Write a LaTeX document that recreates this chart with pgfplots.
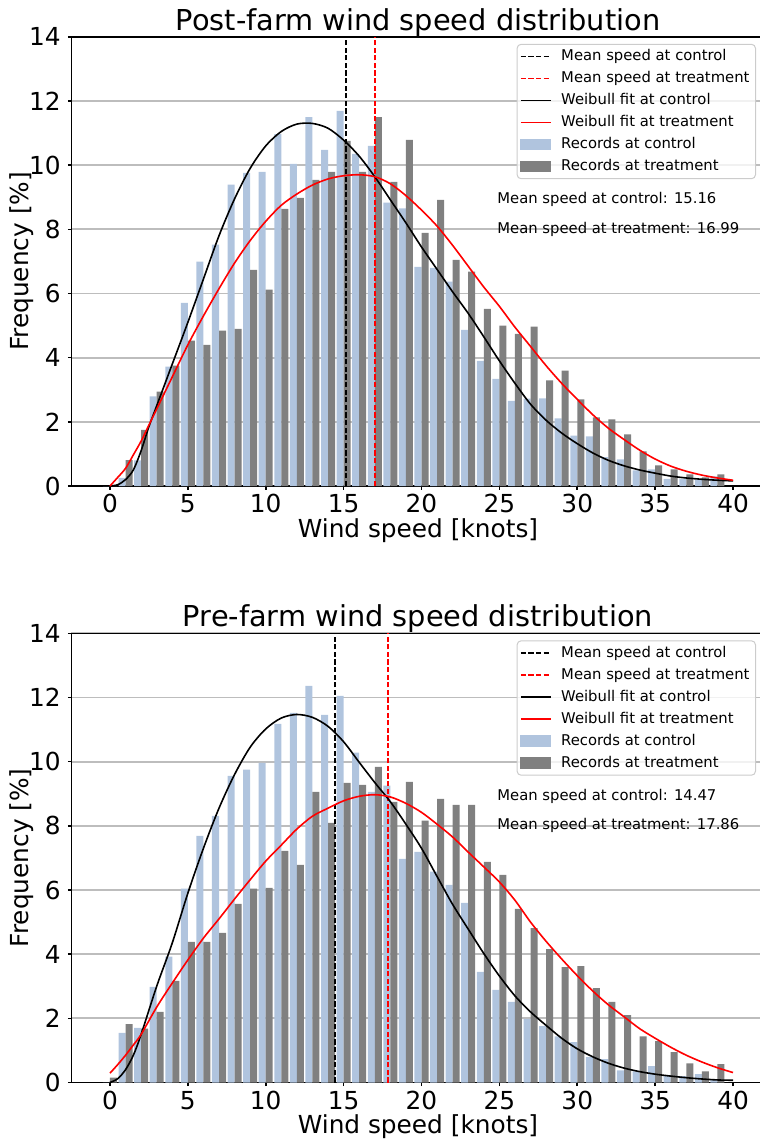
\documentclass[border=0pt]{standalone}
\usepackage{fontspec}
\setmainfont{DejaVu Sans}
\usepackage{pgfplots}
\usepackage{pgfplotstable}
\pgfplotsset{compat=1.18}

\definecolor{ctrlbar}{HTML}{B0C4DE}
\definecolor{trtbar}{HTML}{808080}
\definecolor{gridgray}{HTML}{BDBDBD}
\definecolor{legendedge}{HTML}{CCCCCC}

% Histogram frequencies [%] per 1-knot bin (bin centre k)
\pgfplotstableread{
k  ctrl   trt
0  0.00   0.00
1  0.25   0.81
2  0.80   1.75
3  2.79   2.94
4  3.72   3.75
5  5.71   4.53
6  6.99   4.40
7  7.52   4.84
8  9.39   4.90
9  9.76   6.74
10 9.79   6.12
11 10.97  8.64
12 10.04  8.98
13 11.50  9.54
14 10.48  9.79
15 11.69  10.76
16 10.35  9.79
17 10.60  11.50
18 8.83   9.48
19 8.65   10.79
20 6.83   7.89
21 6.80   8.92
22 6.37   7.05
23 4.87   6.68
24 3.90   5.52
25 3.34   5.00
26 2.65   4.74
27 2.72   4.97
28 2.73   3.29
29 2.11   3.60
30 1.57   2.70
31 1.55   2.14
32 0.90   2.08
33 0.83   1.61
34 0.49   1.08
35 0.52   0.64
36 0.22   0.52
37 0.22   0.36
38 0.19   0.27
39 0.30   0.36
}\posthist

\pgfplotstableread{
k  ctrl   trt
0  0.00   0.15
1  1.55   1.82
2  1.70   1.68
3  2.98   2.20
4  3.92   3.17
5  6.04   4.38
6  7.69   4.38
7  8.31   4.66
8  9.56   5.57
9  9.75   6.04
10 9.96   6.07
11 11.18  7.22
12 11.52  6.78
13 12.36  9.06
14 11.46  8.09
15 12.05  9.34
16 10.28  9.28
17 9.06   9.84
18 9.25   8.75
19 6.97   9.37
20 7.19   8.16
21 6.57   8.84
22 6.16   8.65
23 5.60   8.65
24 3.45   6.88
25 2.89   6.47
26 2.51   5.41
27 1.98   4.81
28 1.76   4.16
29 1.44   3.60
30 1.26   3.63
31 0.79   2.94
32 0.73   2.51
33 0.38   2.10
34 0.35   1.44
35 0.51   1.29
36 0.23   0.95
37 0.20   0.60
38 0.26   0.35
39 0.10   0.57
}\prehist

% Weibull fits [%]
\pgfplotstableread{
x    ctrl   trt
0    0.00   0.00
0.5  0.04   0.27
1    0.20   0.55
1.5  0.50   0.97
2    1.10   1.40
2.5  1.85   1.90
3    2.50   2.40
4    3.80   3.40
5    5.10   4.40
6    6.45   5.30
7    7.80   6.15
8    8.95   6.95
9    9.90   7.65
10   10.60  8.25
11   11.05  8.75
12   11.28  9.10
13   11.30  9.38
14   11.15  9.57
15   10.78  9.67
16   10.28  9.70
17   9.64   9.64
18   8.92   9.42
19   8.20   9.05
20   7.45   8.60
21   6.75   8.10
22   6.05   7.50
23   5.38   6.85
24   4.65   6.20
25   3.90   5.60
26   3.20   4.95
27   2.55   4.35
28   2.05   3.75
29   1.65   3.20
30   1.32   2.70
31   1.03   2.22
32   0.80   1.80
33   0.63   1.45
34   0.50   1.12
35   0.40   0.84
36   0.31   0.62
37   0.25   0.46
38   0.21   0.34
39   0.18   0.25
40   0.16   0.18
}\postfit

\pgfplotstableread{
x    ctrl   trt
0    0.00   0.29
0.5  0.12   0.56
1    0.40   0.85
1.5  0.85   1.17
2    1.50   1.50
3    3.00   2.35
4    4.35   3.10
5    5.90   3.82
6    7.30   4.50
7    8.55   5.10
8    9.60   5.72
9    10.45  6.32
10   11.02  6.90
11   11.36  7.40
12   11.47  7.90
13   11.38  8.30
14   11.10  8.55
15   10.62  8.78
16   9.98   8.92
17   9.35   8.97
18   8.75   8.90
19   8.05   8.70
20   7.30   8.42
21   6.42   8.05
22   5.55   7.65
23   4.78   7.18
24   4.02   6.72
25   3.32   6.25
26   2.70   5.68
27   2.20   5.00
28   1.78   4.40
29   1.38   3.85
30   1.05   3.33
31   0.80   2.85
32   0.60   2.42
33   0.45   2.05
34   0.34   1.68
35   0.26   1.38
36   0.20   1.10
37   0.15   0.85
38   0.11   0.64
39   0.08   0.46
40   0.07   0.31
}\prefit

\tikzset{note/.style={anchor=base west, inner sep=0pt, font=\fontsize{7.4}{9}\selectfont}}

\pgfplotsset{
  windhist/.style={
    scale only axis, width=346.5pt, height=224.6pt,
    xmin=-2.47, xmax=42.02, ymin=0, ymax=14,
    xtick={0,5,...,40}, ytick={0,2,...,14},
    tick align=outside, xtick pos=left, ytick pos=left,
    major tick length=1.75pt,
    tick style={black, line width=0.8pt},
    axis line style={line width=0.8pt},
    ymajorgrids, major grid style={gridgray, line width=0.9pt},
    /pgf/number format/assume math mode=true,
    ticklabel style={font=\fontsize{12.4}{14}\selectfont},
    xticklabel style={anchor=base, inner sep=0pt, yshift=-11.5pt},
    yticklabel style={anchor=east, inner sep=0pt, xshift=-3.5pt},
    every axis title shift=0pt,
    title style={font=\fontsize{14.4}{16}\selectfont, at={(axis description cs:0.5,1)}, anchor=base, yshift=3.35pt},
    xlabel style={font=\fontsize{12.4}{14}\selectfont, at={(axis description cs:0.5,0)}, anchor=base, yshift=-25.5pt},
    ylabel style={font=\fontsize{12.4}{14}\selectfont, at={([xshift=-21.5pt]axis description cs:0,0.5)}, anchor=base},
    xlabel={Wind speed [knots]},
    ylabel={Frequency [\%]},
    legend cell align=left,
    legend style={at={(axis description cs:1,1)}, anchor=north east, xshift=-4.25pt, yshift=-3.5pt,
      draw=legendedge, line width=0.5pt, rounded corners=2pt, fill=white, fill opacity=0.8, text opacity=1,
      inner xsep=1.4pt, inner ysep=0.6pt, row sep=0pt, column sep=3.15pt,
      font=\fontsize{7.4}{9}\selectfont,
      nodes={inner sep=1.6pt, text height=5.9pt, text depth=1.9pt}},
    legend image code/.code={\draw[sharp corners, #1] (0pt,0pt) -- (15pt,0pt);},
    meanline/.style={line width=0.9pt, dash pattern=on 2.6pt off 1.2pt, forget plot},
    fitline/.style={line width=0.8pt, smooth, forget plot},
    barstyle/.style={ybar, bar width=0.45, bar shift=0pt, draw=none, forget plot},
  }
}

\newcommand{\windlegend}{%
  \addlegendimage{black, line width=0.9pt, dash pattern=on 2.6pt off 1.2pt}
  \addlegendentry{Mean speed at control}
  \addlegendimage{red, line width=0.9pt, dash pattern=on 2.6pt off 1.2pt}
  \addlegendentry{Mean speed at treatment}
  \addlegendimage{black, line width=0.8pt}
  \addlegendentry{Weibull fit at control}
  \addlegendimage{red, line width=0.8pt}
  \addlegendentry{Weibull fit at treatment}
  \addlegendimage{legend image code/.code={\fill[ctrlbar, sharp corners, fill opacity=1] (0pt,-2.65pt) rectangle (15pt,2.65pt);}}
  \addlegendentry{Records at control}
  \addlegendimage{legend image code/.code={\fill[trtbar, sharp corners, fill opacity=1] (0pt,-2.65pt) rectangle (15pt,2.65pt);}}
  \addlegendentry{Records at treatment}
}

\begin{document}
\begin{tikzpicture}
% Post-farm period
\begin{axis}[windhist, at={(35.75pt,-243pt)}, anchor=south west,
  title={Post-farm wind speed distribution}]
  \windlegend
  \addplot[barstyle, fill=ctrlbar] table[x expr=\thisrow{k}-0.225, y=ctrl] {\posthist};
  \addplot[barstyle, fill=trtbar] table[x expr=\thisrow{k}+0.225, y=trt] {\posthist};
  \addplot[meanline, black] coordinates {(15.16,0) (15.16,14)};
  \addplot[meanline, red] coordinates {(16.99,0) (16.99,14)};
  \addplot[fitline, black] table[x=x, y=ctrl] {\postfit};
  \addplot[fitline, red] table[x=x, y=trt] {\postfit};
  \node[note] at (axis cs:24.85,8.81) {Mean speed at control: 15.16};
  \node[note] at (axis cs:24.85,7.875) {Mean speed at treatment: 16.99};
\end{axis}
% Pre-farm period
\begin{axis}[windhist, at={(35.75pt,-541.25pt)}, anchor=south west,
  title={Pre-farm wind speed distribution}]
  \windlegend
  \addplot[barstyle, fill=ctrlbar] table[x expr=\thisrow{k}-0.225, y=ctrl] {\prehist};
  \addplot[barstyle, fill=trtbar] table[x expr=\thisrow{k}+0.225, y=trt] {\prehist};
  \addplot[meanline, black] coordinates {(14.47,0) (14.47,14)};
  \addplot[meanline, red] coordinates {(17.86,0) (17.86,14)};
  \addplot[fitline, black] table[x=x, y=ctrl] {\prefit};
  \addplot[fitline, red] table[x=x, y=trt] {\prefit};
  \node[note] at (axis cs:24.85,8.80) {Mean speed at control: 14.47};
  \node[note] at (axis cs:24.85,7.88) {Mean speed at treatment: 17.86};
\end{axis}
\pgfresetboundingbox
\path[use as bounding box] (0pt,0pt) rectangle (380pt,-571pt);
\end{tikzpicture}
\end{document}
